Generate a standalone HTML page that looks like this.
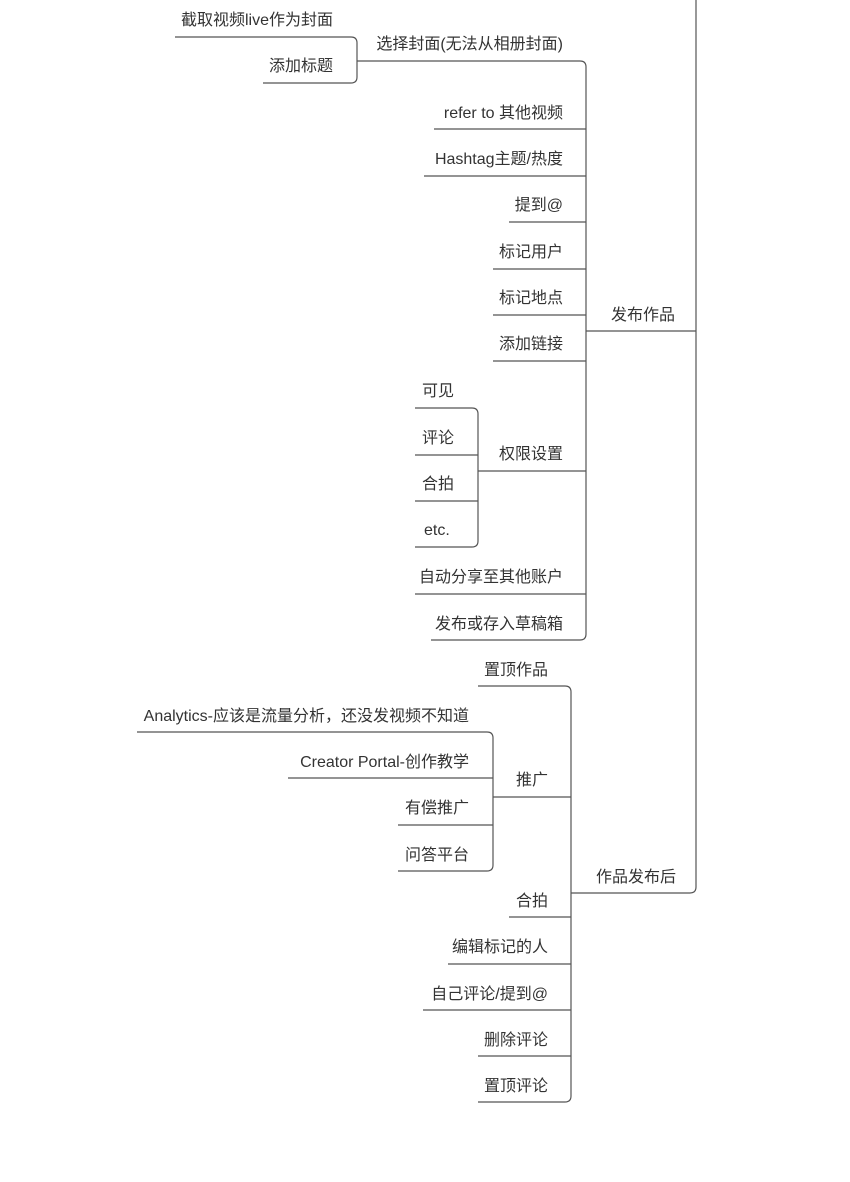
<!DOCTYPE html>
<html><head><meta charset="utf-8"><style>
html,body{margin:0;padding:0;background:#fff;width:850px;height:1182px;overflow:hidden}
svg text{font-family:"Liberation Sans","Noto Sans CJK SC",sans-serif;font-size:16px;fill:#333}
</style></head><body>
<svg width="850" height="1182" viewBox="0 0 850 1182" xmlns="http://www.w3.org/2000/svg">
<g fill="none" stroke="#555" stroke-width="1.2">
<path d="M696,0 V887 Q696,893 690,893 H571"/>
<path d="M586,331 H696"/>
<path d="M357,61 H580 Q586,61 586,67 V634 Q586,640 580,640 H431"/>
<path d="M434,129 H586 M424,176 H586 M509,222 H586 M493,269 H586 M493,315 H586 M493,361 H586 M478,471 H586 M415,594 H586"/>
<path d="M175,37 H351 Q357,37 357,43 V77 Q357,83 351,83 H263"/>
<path d="M415,408 H472 Q478,408 478,414 V541 Q478,547 472,547 H415"/>
<path d="M415,455 H478 M415,501 H478"/>
<path d="M478,686 H565 Q571,686 571,692 V1096 Q571,1102 565,1102 H478"/>
<path d="M493,797 H571 M509,917 H571 M448,964 H571 M423,1010 H571 M478,1056 H571"/>
<path d="M137,732 H487 Q493,732 493,738 V865 Q493,871 487,871 H398"/>
<path d="M288,778 H493 M398,825 H493"/>
</g>
<g text-anchor="end">
<text x="333" y="25">截取视频live作为封面</text>
<text x="333" y="71">添加标题</text>
<text x="563" y="49">选择封面(无法从相册封面)</text>
<text x="563" y="118">refer to 其他视频</text>
<text x="563" y="164">Hashtag主题/热度</text>
<text x="563" y="210">提到@</text>
<text x="563" y="257">标记用户</text>
<text x="563" y="303">标记地点</text>
<text x="563" y="349">添加链接</text>
<text x="563" y="459">权限设置</text>
<text x="563" y="582">自动分享至其他账户</text>
<text x="563" y="629">发布或存入草稿箱</text>
<text x="548" y="675">置顶作品</text>
<text x="548" y="785">推广</text>
<text x="548" y="906">合拍</text>
<text x="548" y="952">编辑标记的人</text>
<text x="548" y="999">自己评论/提到@</text>
<text x="548" y="1045">删除评论</text>
<text x="548" y="1091">置顶评论</text>
<text x="469" y="721">Analytics-应该是流量分析，还没发视频不知道</text>
<text x="469" y="767">Creator Portal-创作教学</text>
<text x="469" y="813">有偿推广</text>
<text x="469" y="860">问答平台</text>
</g>
<text x="422" y="396">可见</text>
<text x="422" y="443">评论</text>
<text x="422" y="489">合拍</text>
<text x="424" y="535">etc.</text>
<text x="611" y="320">发布作品</text>
<text x="596" y="882">作品发布后</text>
</svg>
</body></html>
